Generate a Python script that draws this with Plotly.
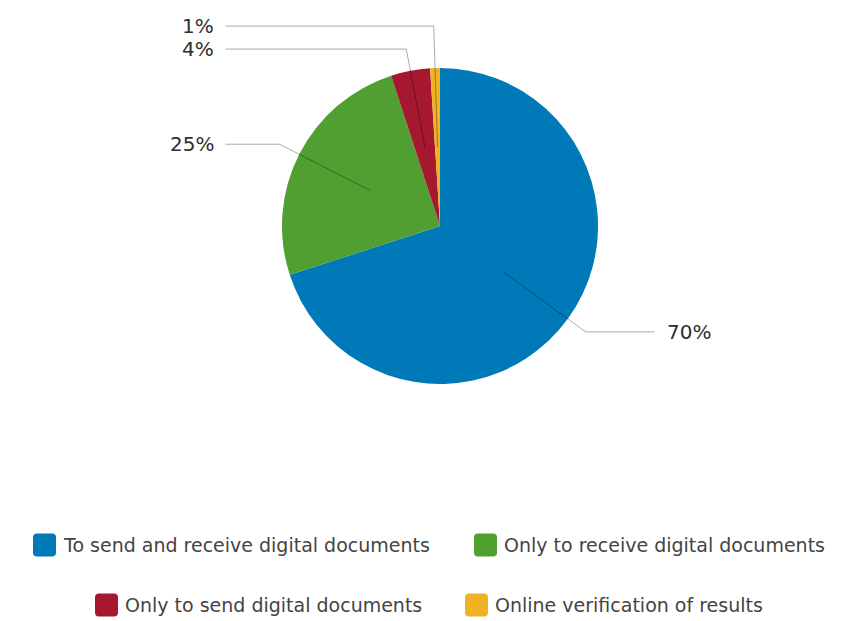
import math
import plotly.graph_objects as go

categories = [
    "To send and receive digital documents",
    "Only to receive digital documents",
    "Only to send digital documents",
    "Online verification of results",
]
values = [70, 25, 4, 1]
colors = ["#0079b9", "#519e31", "#a5182f", "#f0b224"]

W, H = 846, 621
CX, CY, R = 440, 226, 158
FONT = "DejaVu Sans"

fig = go.Figure()
fig.add_trace(go.Pie(
    labels=categories, values=values, sort=False, direction="clockwise",
    rotation=0, marker=dict(colors=colors, line=dict(width=0)),
    textinfo="none", showlegend=False,
    domain=dict(x=[(CX - R) / W, (CX + R) / W], y=[(H - CY - R) / H, (H - CY + R) / H]),
))

total = sum(values)
shapes, annotations = [], []
cum = 0
items = []
for v in values:
    mid = (cum + v / 2) / total * 2 * math.pi
    cum += v
    items.append(mid)

last_left = None
for v, mid in zip(values, items):
    s, c = math.sin(mid), math.cos(mid)
    x0, y0 = CX + 0.5 * R * s, CY - 0.5 * R * c
    ly = CY - 1.14 * R * c
    side = 1 if s >= 0 else -1
    if side < 0:
        if last_left is not None and ly > last_left - 23:
            ly = last_left - 23
        last_left = ly
    rr = (CY - ly) / c if abs(c) > 1e-6 else 1.14 * R
    bx, by = CX + rr * s, ly
    ex = CX + side * 214.5
    shapes.append(dict(type="path", xref="x", yref="y",
                       path=f"M{x0},{y0} L{bx},{by} L{ex},{by}",
                       line=dict(color="rgba(0,0,0,0.33)", width=1)))
    annotations.append(dict(x=ex + side * 10, y=by, xref="x", yref="y",
                            text=f"{round(v / total * 100)}%", showarrow=False,
                            xanchor="left" if side > 0 else "right", yanchor="middle",
                            font=dict(family=FONT, size=20, color="#2e2e2e")))

# legend (two centered rows)
legend_rows = [(545, [(33, 0), (474, 1)]), (605, [(95, 2), (465, 3)])]
SW = 23
for yc, entries in legend_rows:
    for lx, i in entries:
        x0, x1, y0, y1 = lx, lx + SW, yc - SW / 2, yc + SW / 2
        r = 4
        path = (f"M{x0+r},{y0} L{x1-r},{y0} Q{x1},{y0} {x1},{y0+r} L{x1},{y1-r} "
                f"Q{x1},{y1} {x1-r},{y1} L{x0+r},{y1} Q{x0},{y1} {x0},{y1-r} "
                f"L{x0},{y0+r} Q{x0},{y0} {x0+r},{y0} Z")
        shapes.append(dict(type="path", xref="x", yref="y", path=path,
                           fillcolor=colors[i], line=dict(width=0)))
        annotations.append(dict(x=x1 + 5, y=yc, xref="x", yref="y", text=categories[i],
                                showarrow=False, xanchor="left", yanchor="middle",
                                font=dict(family=FONT, size=19, color="#444444")))

fig.update_layout(
    width=W, height=H, margin=dict(l=0, r=0, t=0, b=0),
    paper_bgcolor="white", plot_bgcolor="white",
    xaxis=dict(range=[0, W], visible=False, fixedrange=True, domain=[0, 1]),
    yaxis=dict(range=[H, 0], visible=False, fixedrange=True, domain=[0, 1]),
    shapes=shapes, annotations=annotations, showlegend=False,
)
fig.write_html("out.html")
